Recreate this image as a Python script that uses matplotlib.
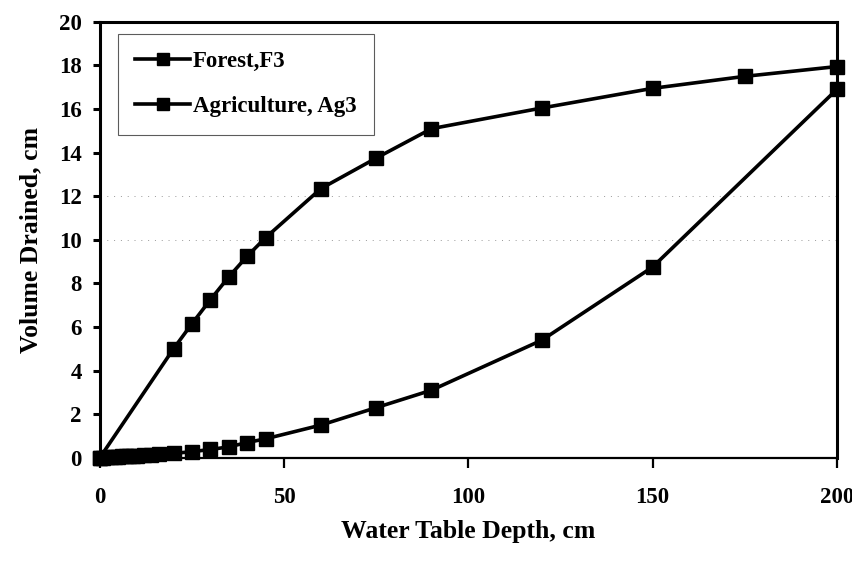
#! /usr/bin/env python
# volume drained vs water table depth - forest vs agriculture

import matplotlib
matplotlib.use('Agg')
import matplotlib.pyplot as plt

# forest soil, F3
forest_depth = [0, 20, 25, 30, 35, 40, 45, 60, 75, 90, 120, 150, 175, 200]
forest_vol = [0, 5.0, 6.15, 7.25, 8.3, 9.25, 10.1, 12.35, 13.75, 15.1, 16.05, 16.95, 17.5, 17.95]

# agriculture soil, Ag3
ag_depth = [0, 1, 2, 3, 4, 5, 6, 7, 8, 9, 10, 12, 14, 16, 20, 25, 30, 35, 40, 45, 60, 75, 90, 120, 150, 200]
ag_vol = [0, 0.01, 0.02, 0.03, 0.04, 0.05, 0.06, 0.07, 0.08, 0.09, 0.1, 0.12, 0.14, 0.16,
          0.2, 0.28, 0.38, 0.5, 0.7, 0.87, 1.5, 2.3, 3.1, 5.4, 8.75, 16.9]

x_ticks = [0, 50, 100, 150, 200]
y_ticks = [0, 2, 4, 6, 8, 10, 12, 14, 16, 18, 20]
faint_grid = [10, 12]    # the only gridlines still visible in the scan

plt.rcParams['font.family'] = ['Liberation Serif', 'DejaVu Serif']
plt.rcParams['font.weight'] = 'bold'

fig = plt.figure(figsize=(8.53, 5.61), dpi=100)
ax = fig.add_axes([0.117, 0.184, 0.864, 0.777])

for g in faint_grid:
    ax.axhline(g, color='#999999', lw=0.7, ls=(0, (1, 6)), zorder=0)

ax.plot(forest_depth, forest_vol, color='black', lw=2.6, marker='s', ms=10,
        clip_on=False, label='Forest,F3', zorder=3)
ax.plot(ag_depth, ag_vol, color='black', lw=2.6, marker='s', ms=9.5,
        clip_on=False, label='Agriculture, Ag3', zorder=3)

ax.set_xlim(0, 200)
ax.set_ylim(0, 20)
ax.set_xticks(x_ticks)
ax.set_yticks(y_ticks)

for side in ['left', 'top', 'right']:
    ax.spines[side].set_linewidth(2.2)
ax.spines['bottom'].set_linewidth(1.6)

ax.tick_params(axis='y', direction='out', length=5, width=2.2, pad=8, labelsize=16.5)
ax.tick_params(axis='x', direction='out', length=7, width=1.6, pad=14, labelsize=16.5)

ax.set_xlabel('Water Table Depth, cm', fontsize=18.5, fontweight='bold', labelpad=9)
ax.set_ylabel('Volume Drained, cm', fontsize=18.5, fontweight='bold', labelpad=12)

leg = ax.legend(loc='upper left', bbox_to_anchor=(0.025, 0.972), borderaxespad=0,
                fontsize=16.5, frameon=True, fancybox=False, edgecolor='#333333',
                handlelength=2.4, labelspacing=1.05, borderpad=0.75,
                handletextpad=0.1, markerscale=0.9)
leg.get_frame().set_linewidth(0.8)

plt.savefig('out.png', dpi=100)
